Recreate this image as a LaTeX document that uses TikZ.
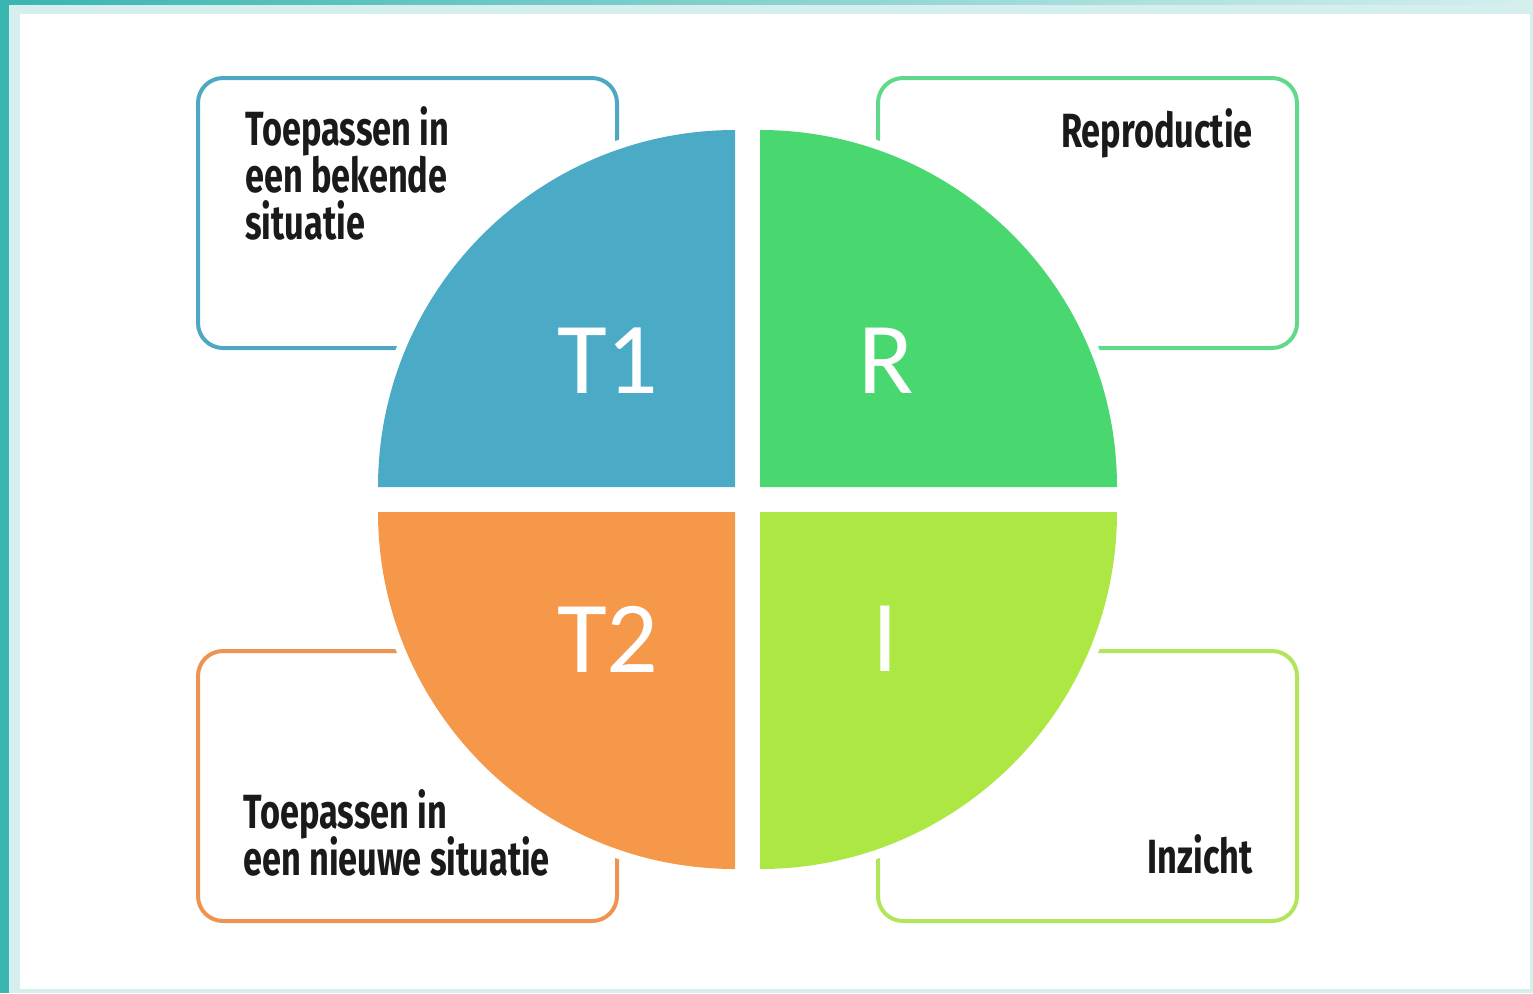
\documentclass[tikz,border=0pt]{standalone}
\usepackage{fontspec}
\usepackage{tikz}
\newfontfamily\boxfont[FakeStretch=0.715]{Fira Sans}
\newfontfamily\quadfont{Carlito}
\definecolor{frameteal}{RGB}{58,181,176}
\definecolor{framelight}{RGB}{212,239,238}
\definecolor{quadblue}{RGB}{75,170,198}
\definecolor{quadgreen}{RGB}{73,215,112}
\definecolor{quadorange}{RGB}{245,152,74}
\definecolor{quadlime}{RGB}{173,231,68}
\definecolor{lineblue}{RGB}{78,168,196}
\definecolor{linegreen}{RGB}{98,217,138}
\definecolor{lineorange}{RGB}{238,148,82}
\definecolor{linelime}{RGB}{178,229,90}
\definecolor{inkdark}{RGB}{26,26,26}

\begin{document}
\begin{tikzpicture}[x=0.5pt,y=0.5pt,yscale=-1,xscale=1,
    infobox/.style={line width=2pt,rounded corners=12.5pt,fill=white},
    knockout/.style={fill=white,draw=white,line width=9pt},
    boxtext/.style={inner sep=0pt,text=inkdark,font=\boxfont\bfseries\fontsize{24}{23.5}\selectfont},
    nextline/.style={boxtext,anchor=base west,yshift=-23.5pt},
    quadtext/.style={inner sep=0pt,text=white,font=\quadfont\fontsize{51}{51}\selectfont}]
    \useasboundingbox (0,0) rectangle (1533,993);

    %Frame
    \fill[framelight] (0,0) rectangle (1533,993);
    \fill[left color=frameteal,right color=framelight] (0,0) rectangle (1533,4);
    \fill[frameteal] (0,0) rectangle (9,993);
    \fill[white] (20,14) rectangle (1530,989);

    %Rounded boxes
    \draw[infobox,draw=lineblue] (198,78) rectangle (617,348);
    \draw[infobox,draw=linegreen] (878,78) rectangle (1297,348);
    \draw[infobox,draw=lineorange] (198,651) rectangle (617,921);
    \draw[infobox,draw=linelime] (878,651) rectangle (1297,921);

    %Quadrants, white gap first
    \draw[knockout] (735,487) -- (378,487) arc[start angle=180,end angle=270,radius=357] -- cycle;
    \draw[knockout] (760,487) -- (760,130) arc[start angle=270,end angle=360,radius=357] -- cycle;
    \draw[knockout] (735,512) -- (735,869) arc[start angle=90,end angle=180,radius=357] -- cycle;
    \draw[knockout] (760,512) -- (1117,512) arc[start angle=0,end angle=90,radius=357] -- cycle;
    \fill[quadblue] (735,487) -- (378,487) arc[start angle=180,end angle=270,radius=357] -- cycle;
    \fill[quadgreen] (760,487) -- (760,130) arc[start angle=270,end angle=360,radius=357] -- cycle;
    \fill[quadorange] (735,512) -- (735,869) arc[start angle=90,end angle=180,radius=357] -- cycle;
    \fill[quadlime] (760,512) -- (1117,512) arc[start angle=0,end angle=90,radius=357] -- cycle;

    % Text Node
    \node[quadtext] (tone) at (608,361) {T1};
    % Text Node
    \node[quadtext] (rep) at (886,361) {R};
    % Text Node
    \node[quadtext] (ttwo) at (608,639) {T2};
    % Text Node
    \node[quadtext] (ins) at (885,639) {I};

    % Text Node
    \node[boxtext,anchor=base west] (knowna) at (245,145) {Toepassen in};
    \node[nextline] (knownb) at (knowna.base west) {een bekende};
    \node[nextline] (knownc) at (knownb.base west) {situatie};
    % Text Node
    \node[boxtext,anchor=base east] (reprod) at (1253,147) {Reproductie};
    % Text Node
    \node[boxtext,anchor=base west] (newa) at (243,828) {Toepassen in};
    \node[nextline] (newb) at (newa.base west) {een nieuwe situatie};
    % Text Node
    \node[boxtext,anchor=base east] (insight) at (1253,873) {Inzicht};
\end{tikzpicture}
\end{document}
